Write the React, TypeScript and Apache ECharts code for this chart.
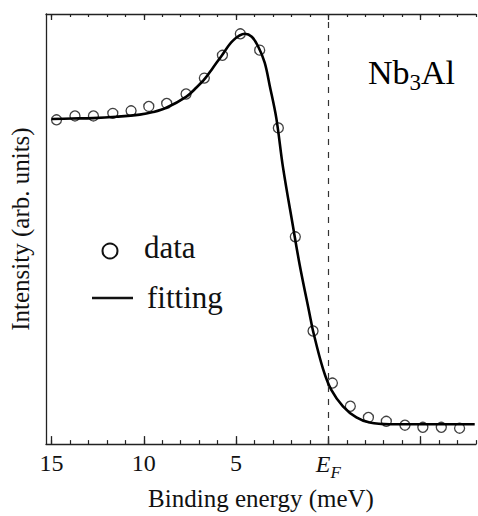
import React, { useEffect, useRef } from "react";
import * as echarts from "echarts";

// Binding energy (meV) of the measured points and their intensity (arb. units)
const DATA_E = [14.73, 13.73, 12.73, 11.68, 10.69, 9.73, 8.76, 7.71, 6.72, 5.74, 4.77, 3.72, 2.71, 1.79, 0.83, -0.22, -1.19, -2.17, -3.14, -4.15, -5.12, -6.12, -7.11];
const DATA_I = [75.4, 76.3, 76.3, 76.9, 77.5, 78.5, 79.2, 81.4, 85.1, 90.4, 95.4, 91.6, 73.5, 48.2, 26.3, 14.2, 8.8, 6.2, 5.3, 4.4, 3.9, 3.9, 3.7];

// Fitting curve
const FIT_E = [15.0, 13.9, 12.75, 11.5, 10.22, 9.5, 8.78, 7.69, 7.15, 6.7, 6.27, 5.8, 5.17, 4.53, 4.15, 3.81, 3.45, 3.18, 2.82, 2.46, 1.92, 1.55, 1.01, 0.83, 0.29, -0.16, -0.79, -1.52, -2.24, -3.32, -5.0, -7.93];
const FIT_I = [75.6, 75.7, 75.8, 76.1, 76.6, 77.2, 78.2, 80.8, 82.9, 84.9, 87.4, 90.2, 93.8, 95.4, 94.7, 92.5, 88.7, 83.4, 75.8, 64.4, 50.7, 41.6, 30.1, 26.3, 17.5, 12.6, 8.8, 6.2, 5.0, 4.6, 4.6, 4.6];

// Axis ticks
const MAJOR_TICKS = [15, 10, 5, 0, -5];
const LABEL_TICKS = [15, 10, 5, 0];
const MINOR_TICKS = [-8, -7, -6, -5, -4, -3, -2, -1, 0, 1, 2, 3, 4, 5, 6, 7, 8, 9, 10, 11, 12, 13, 14, 15];
const X_MIN = -8;
const X_MAX = 15.3;
const FERMI = 0;

const FONT = "Liberation Serif, Times New Roman, DejaVu Serif, serif";

export default function App() {
  const ref = useRef<HTMLDivElement>(null);
  useEffect(() => {
    if (!ref.current) return;
    const chart = echarts.init(ref.current, null, { renderer: "svg" });
    const baseX = {
      type: "value" as const,
      min: X_MIN,
      max: X_MAX,
      inverse: true,
      splitLine: { show: false },
    };
    const option: any = {
      animation: false,
      backgroundColor: "#fff",
      textStyle: { fontFamily: FONT },
      grid: { left: 46, right: 2, top: 14, bottom: 64 },
      xAxis: [
        {
          ...baseX,
          position: "bottom",
          name: "Binding energy (meV)",
          nameLocation: "middle",
          nameGap: 31,
          nameTextStyle: { fontFamily: FONT, fontSize: 25, color: "#111" },
          axisLine: { show: true, onZero: false, lineStyle: { color: "#222", width: 1.3 } },
          axisTick: { show: true, inside: true, length: 8, customValues: MAJOR_TICKS, lineStyle: { color: "#222", width: 1.3 } },
          axisLabel: {
            show: true,
            customValues: LABEL_TICKS,
            margin: 7,
            fontFamily: FONT,
            fontSize: 24,
            color: "#111",
            formatter: (v: number) => (v === FERMI ? "{e|E}{f|F}" : String(v)),
            rich: {
              e: { fontFamily: FONT, fontSize: 24, fontStyle: "italic", color: "#111", lineHeight: 26 },
              f: { fontFamily: FONT, fontSize: 17, fontStyle: "italic", color: "#111", verticalAlign: "bottom", lineHeight: 16, padding: [0, 0, -4, 0] },
            },
          },
        },
        {
          ...baseX,
          position: "bottom",
          axisLine: { show: false, onZero: false },
          axisTick: { show: true, inside: true, length: 4, customValues: MINOR_TICKS, lineStyle: { color: "#222", width: 1.2 } },
          axisLabel: { show: false },
        },
        {
          ...baseX,
          position: "top",
          axisLine: { show: true, onZero: false, lineStyle: { color: "#222", width: 1.3 } },
          axisTick: { show: true, inside: true, length: 6, customValues: MAJOR_TICKS, lineStyle: { color: "#222", width: 1.3 } },
          axisLabel: { show: false },
        },
        {
          ...baseX,
          position: "top",
          axisLine: { show: false, onZero: false },
          axisTick: { show: true, inside: true, length: 3, customValues: MINOR_TICKS, lineStyle: { color: "#222", width: 1.2 } },
          axisLabel: { show: false },
        },
      ],
      yAxis: {
        type: "value",
        min: 0,
        max: 100,
        name: "Intensity (arb. units)",
        nameLocation: "middle",
        nameGap: 13,
        nameTextStyle: { fontFamily: FONT, fontSize: 25, color: "#111" },
        axisLine: { show: true, onZero: false, lineStyle: { color: "#222", width: 1.3 } },
        axisTick: { show: false },
        axisLabel: { show: false },
        splitLine: { show: false },
      },
      series: [
        {
          name: "data",
          type: "scatter",
          xAxisIndex: 0,
          z: 2,
          symbol: "circle",
          symbolSize: 10,
          itemStyle: { color: "rgba(0,0,0,0)", borderColor: "#111", borderWidth: 1.3 },
          data: DATA_E.map((e, i) => [e, DATA_I[i]]),
        },
        {
          name: "fitting",
          type: "line",
          xAxisIndex: 0,
          z: 3,
          showSymbol: false,
          smooth: 0.35,
          lineStyle: { color: "#000", width: 2.6 },
          data: FIT_E.map((e, i) => [e, FIT_I[i]]),
          markLine: {
            silent: true,
            symbol: "none",
            label: { show: false },
            lineStyle: { color: "#333", width: 1.2, type: [6, 7] },
            data: [{ xAxis: FERMI }],
          },
        },
      ],
      graphic: [
        { type: "circle", shape: { cx: 110, cy: 251, r: 7.5 }, style: { fill: "none", stroke: "#111", lineWidth: 2 } },
        { type: "text", x: 144, y: 247, style: { text: "data", fontFamily: FONT, fontSize: 31, fill: "#111", verticalAlign: "middle" } },
        { type: "line", shape: { x1: 92, y1: 298, x2: 133, y2: 298 }, style: { stroke: "#111", lineWidth: 2.5 } },
        { type: "text", x: 147, y: 297, style: { text: "fitting", fontFamily: FONT, fontSize: 31, fill: "#111", verticalAlign: "middle" } },
        {
          type: "text",
          x: 368,
          y: 50,
          style: {
            text: "{a|Nb}{s|3}{a|Al}",
            verticalAlign: "top",
            rich: {
              a: { fontFamily: FONT, fontSize: 34, color: "#111", lineHeight: 44 },
              s: { fontFamily: FONT, fontSize: 23, color: "#111", lineHeight: 22, verticalAlign: "bottom" },
            },
          },
        },
      ],
    };
    chart.setOption(option);
    return () => chart.dispose();
  }, []);
  return (
    <div style={{ position: "absolute", left: 0, top: 0, width: 478, height: 516, overflow: "hidden", background: "#fff" }}>
      <div ref={ref} style={{ width: 478, height: 516 }} />
    </div>
  );
}
